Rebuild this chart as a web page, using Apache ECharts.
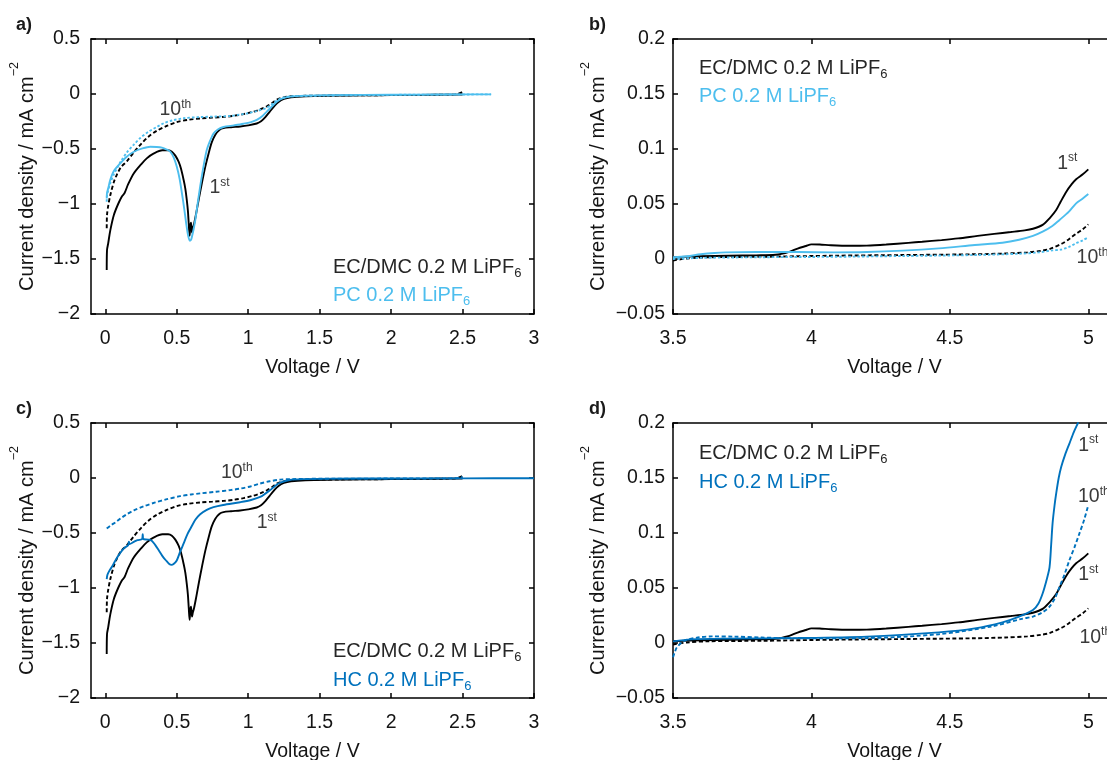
<!DOCTYPE html>
<html><head><meta charset="utf-8">
<script src="https://cdn.jsdelivr.net/npm/echarts@6/dist/echarts.min.js"></script>
<style>html,body{margin:0;padding:0;background:#fff}#c{width:1107px;height:760px}</style>
</head><body><div id="c"></div>
<script>
// ---------------- DATA ----------------
// Cathodic sweeps (panels a, c): [voltage V, current density mA cm^-2]
const ecdmc1stCath = [[0.010,-1.60],[0.012,-1.42],[0.020,-1.36],[0.035,-1.24],[0.060,-1.10],[0.090,-1.00],[0.117,-0.93],[0.135,-0.90],[0.160,-0.82],[0.200,-0.72],[0.250,-0.64],[0.290,-0.585],[0.340,-0.54],[0.400,-0.512],[0.440,-0.512],[0.466,-0.524],[0.490,-0.56],[0.513,-0.615],[0.530,-0.68],[0.548,-0.78],[0.560,-0.86],[0.570,-0.96],[0.578,-1.06],[0.584,-1.18],[0.590,-1.29],[0.595,-1.20],[0.600,-1.17],[0.607,-1.26],[0.613,-1.22],[0.620,-1.19],[0.636,-1.085],[0.655,-0.95],[0.676,-0.81],[0.700,-0.66],[0.723,-0.54],[0.745,-0.44],[0.770,-0.37],[0.800,-0.325],[0.827,-0.31],[0.880,-0.302],[0.944,-0.295],[1.000,-0.285],[1.060,-0.268],[1.090,-0.248],[1.120,-0.21],[1.150,-0.162],[1.180,-0.115],[1.210,-0.075],[1.250,-0.045],[1.300,-0.03],[1.400,-0.02],[1.600,-0.015],[1.800,-0.012],[2.000,-0.01],[2.200,-0.008],[2.400,-0.006],[2.500,-0.005]];
const ecdmc10thCath = [[0.010,-1.22],[0.012,-1.10],[0.020,-1.02],[0.035,-0.92],[0.060,-0.80],[0.082,-0.73],[0.110,-0.665],[0.152,-0.61],[0.200,-0.53],[0.250,-0.455],[0.300,-0.39],[0.360,-0.335],[0.430,-0.29],[0.500,-0.255],[0.580,-0.235],[0.664,-0.222],[0.750,-0.215],[0.830,-0.208],[0.900,-0.198],[0.967,-0.183],[1.030,-0.163],[1.084,-0.14],[1.130,-0.112],[1.170,-0.08],[1.200,-0.052],[1.250,-0.03],[1.300,-0.02],[1.500,-0.015],[2.000,-0.01],[2.400,-0.006],[2.460,-0.002],[2.490,0.012],[2.500,0.02]];
const pc1stCath = [[0.010,-0.95],[0.012,-0.90],[0.020,-0.86],[0.035,-0.78],[0.060,-0.70],[0.105,-0.63],[0.150,-0.57],[0.200,-0.525],[0.260,-0.495],[0.315,-0.48],[0.360,-0.482],[0.396,-0.488],[0.430,-0.505],[0.455,-0.525],[0.480,-0.58],[0.500,-0.66],[0.520,-0.77],[0.536,-0.90],[0.552,-1.04],[0.566,-1.175],[0.580,-1.29],[0.592,-1.334],[0.600,-1.325],[0.606,-1.30],[0.618,-1.23],[0.630,-1.145],[0.647,-0.99],[0.664,-0.84],[0.687,-0.66],[0.710,-0.51],[0.735,-0.42],[0.757,-0.36],[0.790,-0.32],[0.827,-0.30],[0.900,-0.285],[0.967,-0.27],[1.020,-0.255],[1.060,-0.236],[1.100,-0.20],[1.130,-0.16],[1.165,-0.115],[1.200,-0.07],[1.240,-0.04],[1.290,-0.024],[1.400,-0.015],[1.600,-0.01],[2.000,-0.007],[2.400,-0.004],[2.700,-0.003]];
const pc10thCath = [[0.010,-0.98],[0.012,-0.92],[0.020,-0.88],[0.035,-0.81],[0.060,-0.73],[0.082,-0.675],[0.110,-0.61],[0.152,-0.53],[0.200,-0.46],[0.245,-0.40],[0.300,-0.345],[0.360,-0.30],[0.410,-0.265],[0.470,-0.24],[0.550,-0.22],[0.664,-0.21],[0.775,-0.205],[0.875,-0.20],[0.950,-0.185],[1.000,-0.175],[1.060,-0.155],[1.120,-0.13],[1.160,-0.10],[1.200,-0.06],[1.250,-0.032],[1.300,-0.022],[1.500,-0.015],[2.000,-0.008],[2.400,-0.005],[2.700,-0.003]];
const hc1stCath = [[0.010,-0.92],[0.015,-0.88],[0.030,-0.84],[0.050,-0.80],[0.075,-0.74],[0.100,-0.69],[0.130,-0.64],[0.160,-0.61],[0.165,-0.58],[0.170,-0.60],[0.200,-0.58],[0.225,-0.565],[0.258,-0.555],[0.262,-0.51],[0.266,-0.555],[0.300,-0.56],[0.325,-0.57],[0.350,-0.61],[0.375,-0.66],[0.400,-0.71],[0.425,-0.75],[0.450,-0.785],[0.463,-0.79],[0.480,-0.78],[0.500,-0.75],[0.524,-0.67],[0.550,-0.59],[0.575,-0.51],[0.600,-0.45],[0.630,-0.38],[0.664,-0.33],[0.710,-0.29],[0.757,-0.265],[0.825,-0.245],[0.944,-0.22],[1.020,-0.20],[1.084,-0.172],[1.120,-0.142],[1.154,-0.11],[1.190,-0.07],[1.224,-0.043],[1.290,-0.018],[1.400,-0.01],[1.600,-0.006],[2.000,-0.004],[2.500,-0.003],[3.000,-0.002]];
const hc10thCath = [[0.010,-0.46],[0.040,-0.43],[0.075,-0.40],[0.110,-0.365],[0.150,-0.33],[0.200,-0.295],[0.275,-0.255],[0.350,-0.222],[0.425,-0.195],[0.524,-0.165],[0.600,-0.15],[0.664,-0.14],[0.775,-0.125],[0.874,-0.11],[0.950,-0.095],[1.020,-0.075],[1.084,-0.05],[1.150,-0.03],[1.224,-0.015],[1.300,-0.01],[1.600,-0.006],[2.000,-0.005],[2.400,-0.003],[2.480,0.000],[2.500,0.012]];
// Anodic sweeps (panels b, d)
const ecdmc1stAnod = [[3.50,0.0016],[3.60,0.0025],[3.70,0.003],[3.80,0.0033],[3.87,0.0038],[3.92,0.0065],[3.95,0.0095],[3.98,0.0118],[4.00,0.0133],[4.03,0.0132],[4.07,0.0125],[4.14,0.012],[4.20,0.0122],[4.27,0.0132],[4.35,0.0147],[4.40,0.0157],[4.47,0.0172],[4.53,0.0187],[4.60,0.021],[4.66,0.0228],[4.72,0.0245],[4.77,0.026],[4.80,0.0275],[4.835,0.031],[4.86,0.037],[4.884,0.0445],[4.90,0.052],[4.92,0.061],[4.94,0.068],[4.956,0.0725],[4.98,0.077],[5.00,0.0815]];
const ecdmc10thAnod = [[3.50,-0.0014],[3.55,0.0005],[3.63,0.0016],[3.82,0.002],[4.08,0.003],[4.33,0.0036],[4.59,0.0043],[4.70,0.005],[4.78,0.006],[4.83,0.0075],[4.86,0.009],[4.907,0.0143],[4.93,0.018],[4.956,0.023],[4.98,0.027],[5.00,0.0315]];
const pc1stAnod = [[3.50,0.0016],[3.55,0.0025],[3.60,0.0043],[3.65,0.0055],[3.69,0.006],[3.80,0.0063],[3.95,0.0063],[4.08,0.006],[4.20,0.0063],[4.33,0.0076],[4.46,0.0097],[4.59,0.0127],[4.69,0.0148],[4.75,0.0175],[4.80,0.021],[4.835,0.0248],[4.87,0.030],[4.896,0.0355],[4.93,0.043],[4.956,0.0506],[4.98,0.055],[5.00,0.059]];
const pc10thAnod = [[3.50,0.000],[3.60,0.001],[3.82,0.0016],[4.08,0.002],[4.33,0.0027],[4.59,0.0036],[4.75,0.0048],[4.82,0.006],[4.87,0.0078],[4.90,0.0085],[4.93,0.011],[4.956,0.0143],[4.98,0.017],[5.00,0.0198]];
const hc1stAnod = [[3.50,0.0015],[3.565,0.0033],[3.69,0.004],[3.95,0.0045],[4.20,0.0058],[4.46,0.0097],[4.59,0.0133],[4.69,0.0188],[4.75,0.024],[4.80,0.030],[4.82,0.036],[4.835,0.045],[4.85,0.058],[4.86,0.069],[4.866,0.09],[4.871,0.109],[4.878,0.125],[4.884,0.136],[4.893,0.15],[4.902,0.16],[4.916,0.171],[4.932,0.1815],[4.948,0.192],[4.964,0.2006]];
const hc10thAnod = [[3.50,-0.013],[3.507,-0.008],[3.514,-0.004],[3.54,0.002],[3.59,0.005],[3.64,0.006],[3.72,0.0058],[3.82,0.005],[3.95,0.0042],[4.20,0.0045],[4.46,0.008],[4.65,0.015],[4.76,0.022],[4.80,0.024],[4.835,0.028],[4.86,0.033],[4.88,0.041],[4.896,0.051],[4.915,0.063],[4.932,0.0755],[4.95,0.087],[4.968,0.0997],[4.985,0.112],[5.00,0.1255]];

// Tick labels
const xTicksCath = [0, 0.5, 1, 1.5, 2, 2.5, 3];
const yTicksCath = [-2, -1.5, -1, -0.5, 0, 0.5];
const xTicksAnod = [3.5, 4, 4.5, 5];
const yTicksAnod = [-0.05, 0, 0.05, 0.1, 0.15, 0.2];

// Texts
const panelLabels = ['a)', 'b)', 'c)', 'd)'];
const xTitle = 'Voltage / V';
const yTitleMain = 'Current density / mA cm';
const yTitleSup = '\u22122';
const legendRef = 'EC/DMC 0.2 M LiPF';
const legendPC = 'PC 0.2 M LiPF';
const legendHC = 'HC 0.2 M LiPF';
const legendSub = '6';

// ---------------- LAYOUT / STYLE ----------------
const FONT = "'Liberation Sans', Arial, Helvetica, sans-serif";
const TXT = '#141414';
const ANN = '#3a3a3a';
const BLACK = '#000000', PCCOL = '#4DBEEE', HCCOL = '#0072BD';
const grids = [
  {left: 91, top: 39, width: 443, height: 275},
  {left: 673, top: 39, width: 443, height: 275},
  {left: 91, top: 423, width: 443, height: 275},
  {left: 673, top: 423, width: 443, height: 275}
];
const ranges = [
  {x: [-0.1, 3], y: [-2, 0.5], xt: xTicksCath, yt: yTicksCath, ym: 11},
  {x: [3.5, 5.1], y: [-0.05, 0.2], xt: xTicksAnod, yt: yTicksAnod, ym: 8},
  {x: [-0.1, 3], y: [-2, 0.5], xt: xTicksCath, yt: yTicksCath, ym: 11},
  {x: [3.5, 5.1], y: [-0.05, 0.2], xt: xTicksAnod, yt: yTicksAnod, ym: 8}
];
const fmt = v => String(v).replace('-', '\u2212');
const lineSt = {color: '#000', width: 1.5};

const xAxis = [], yAxis = [];
ranges.forEach((r, g) => {
  const common = {type: 'value', gridIndex: g, splitLine: {show: false}};
  xAxis.push(Object.assign({}, common, {
    position: 'bottom', min: r.x[0], max: r.x[1],
    axisLine: {show: true, onZero: false, lineStyle: lineSt},
    axisTick: {show: true, inside: true, length: 5, customValues: r.xt, lineStyle: lineSt},
    axisLabel: {show: true, customValues: r.xt, formatter: fmt, margin: 15, color: TXT, fontSize: 19.5, fontFamily: FONT},
    name: xTitle, nameLocation: 'middle', nameGap: 44,
    nameTextStyle: {color: TXT, fontSize: 19.5, fontFamily: FONT}
  }));
  xAxis.push(Object.assign({}, common, {
    position: 'top', min: r.x[0], max: r.x[1],
    axisLine: {show: true, onZero: false, lineStyle: lineSt},
    axisTick: {show: true, inside: true, length: 5, customValues: r.xt, lineStyle: lineSt},
    axisLabel: {show: false}
  }));
  yAxis.push(Object.assign({}, common, {
    position: 'left', min: r.y[0], max: r.y[1],
    axisLine: {show: true, onZero: false, lineStyle: lineSt},
    axisTick: {show: true, inside: true, length: 5, customValues: r.yt, lineStyle: lineSt},
    axisLabel: {show: true, customValues: r.yt, formatter: fmt, margin: r.ym, color: TXT, fontSize: 19.5, fontFamily: FONT}
  }));
  yAxis.push(Object.assign({}, common, {
    position: 'right', min: r.y[0], max: r.y[1],
    axisLine: {show: true, onZero: false, lineStyle: lineSt},
    axisTick: {show: true, inside: true, length: 5, customValues: r.yt, lineStyle: lineSt},
    axisLabel: {show: false}
  }));
});

function ln(name, g, data, color, type) {
  return {
    name: name, type: 'line', xAxisIndex: 2 * g, yAxisIndex: 2 * g, data: data,
    showSymbol: false, symbol: 'none', smooth: 0.3, silent: true,
    lineStyle: {color: color, width: 1.9, type: type}, itemStyle: {color: color}
  };
}
const DASH = [4, 2.5], DOT = [2.5, 2];
const series = [
  ln('EC/DMC 1st', 0, ecdmc1stCath, BLACK, 'solid'),
  ln('EC/DMC 10th', 0, ecdmc10thCath, BLACK, DASH),
  ln('PC 10th', 0, pc10thCath, PCCOL, DOT),
  ln('PC 1st', 0, pc1stCath, PCCOL, 'solid'),
  ln('EC/DMC 1st', 1, ecdmc1stAnod, BLACK, 'solid'),
  ln('EC/DMC 10th', 1, ecdmc10thAnod, BLACK, DASH),
  ln('PC 1st', 1, pc1stAnod, PCCOL, 'solid'),
  ln('PC 10th', 1, pc10thAnod, PCCOL, DOT),
  ln('EC/DMC 1st', 2, ecdmc1stCath, BLACK, 'solid'),
  ln('EC/DMC 10th', 2, ecdmc10thCath, BLACK, DASH),
  ln('HC 10th', 2, hc10thCath, HCCOL, DASH),
  ln('HC 1st', 2, hc1stCath, HCCOL, 'solid'),
  ln('EC/DMC 1st', 3, ecdmc1stAnod, BLACK, 'solid'),
  ln('EC/DMC 10th', 3, ecdmc10thAnod, BLACK, DASH),
  ln('HC 10th', 3, hc10thAnod, HCCOL, DASH),
  ln('HC 1st', 3, hc1stAnod, HCCOL, 'solid')
];

const chart = echarts.init(document.getElementById('c'), null, {renderer: 'canvas'});
chart.setOption({
  animation: false,
  backgroundColor: '#ffffff',
  textStyle: {fontFamily: FONT},
  grid: grids.map(g => Object.assign({containLabel: false, outerBoundsMode: 'none'}, g)),
  xAxis: xAxis, yAxis: yAxis, series: series
});

// Annotation anchors (data coordinates of label centres)
const annotations = [
  {g: 0, n: '10', s: 'th', at: [0.49, -0.145]},
  {g: 0, n: '1', s: 'st', at: [0.80, -0.855]},
  {g: 1, n: '1', s: 'st', at: [4.924, 0.087]},
  {g: 1, n: '10', s: 'th', at: [5.015, 0.001]},
  {g: 2, n: '10', s: 'th', at: [0.92, 0.045]},
  {g: 2, n: '1', s: 'st', at: [1.13, -0.41]},
  {g: 3, n: '1', s: 'st', at: [5.0, 0.1795]},
  {g: 3, n: '10', s: 'th', at: [5.02, 0.1327]},
  {g: 3, n: '1', s: 'st', at: [5.0, 0.0618]},
  {g: 3, n: '10', s: 'th', at: [5.025, 0.0052]}
];
const legends = [
  {x: 333, y: 267, t: legendRef, c: '#262626'}, {x: 333, y: 295, t: legendPC, c: PCCOL},
  {x: 699, y: 68, t: legendRef, c: '#262626'}, {x: 699, y: 96, t: legendPC, c: PCCOL},
  {x: 333, y: 651, t: legendRef, c: '#262626'}, {x: 333, y: 680, t: legendHC, c: HCCOL},
  {x: 699, y: 453, t: legendRef, c: '#262626'}, {x: 699, y: 482, t: legendHC, c: HCCOL}
];
const panelPos = [[16, 25], [589, 25], [16, 409], [589, 409]];
const yTitlePos = [[27, 176.5], [598, 176.5], [27, 560.5], [598, 560.5]];

const graphic = [];
panelLabels.forEach((t, i) => graphic.push({
  type: 'text', id: 'pl' + i, x: panelPos[i][0], y: panelPos[i][1], silent: true,
  style: {text: t, fill: '#1a1a1a', font: 'bold 18px ' + FONT, align: 'left', verticalAlign: 'middle'}
}));
yTitlePos.forEach((p, i) => graphic.push({
  type: 'text', id: 'yt' + i, x: p[0], y: p[1], rotation: Math.PI / 2, silent: true,
  style: {
    text: '{m|' + yTitleMain + '}{s|' + yTitleSup + '}', align: 'center', verticalAlign: 'middle', fill: TXT,
    rich: {
      m: {fontSize: 20, lineHeight: 22, fontFamily: FONT, fill: TXT},
      s: {fontSize: 12.5, lineHeight: 12, fontFamily: FONT, fill: TXT, padding: [0, 0, 25, 0]}
    }
  }
}));
legends.forEach((l, i) => graphic.push({
  type: 'text', id: 'lg' + i, x: l.x, y: l.y, silent: true,
  style: {
    text: '{m|' + l.t + '}{b|' + legendSub + '}', align: 'left', verticalAlign: 'middle', fill: l.c,
    rich: {
      m: {fontSize: 20, lineHeight: 26, fontFamily: FONT, fill: l.c},
      b: {fontSize: 13, lineHeight: 12, fontFamily: FONT, fill: l.c, verticalAlign: 'bottom'}
    }
  }
}));
annotations.forEach((a, i) => {
  const p = chart.convertToPixel({xAxisIndex: 2 * a.g, yAxisIndex: 2 * a.g}, a.at);
  graphic.push({
    type: 'text', id: 'an' + i, x: p[0], y: p[1], silent: true,
    style: {
      text: '{n|' + a.n + '}{s|' + a.s + '}', align: 'center', verticalAlign: 'middle', fill: ANN,
      rich: {
        n: {fontSize: 19.5, lineHeight: 23, fontFamily: FONT, fill: ANN},
        s: {fontSize: 12, lineHeight: 12, fontFamily: FONT, fill: ANN, verticalAlign: 'top'}
      }
    }
  });
});
chart.setOption({graphic: graphic});
</script></body></html>
